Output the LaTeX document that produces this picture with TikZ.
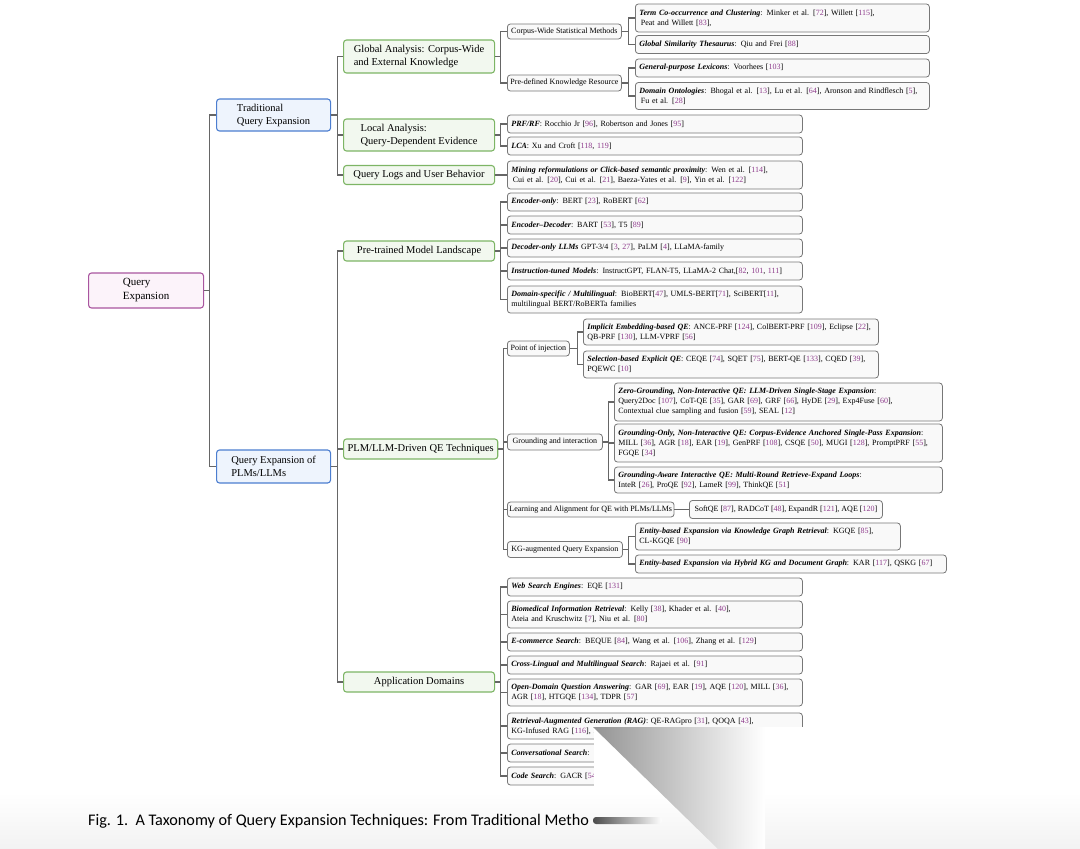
\documentclass[tikz,border=0pt]{standalone}
\usepackage{fontspec}
\setmainfont{Liberation Serif}
\newfontfamily\capfont{Carlito}
\usetikzlibrary{calc}
\definecolor{cite}{HTML}{8E3B8C}
\definecolor{leafb}{HTML}{777777}
\definecolor{leaff}{HTML}{F9F9F9}
\definecolor{grnb}{HTML}{7DB565}
\definecolor{grnf}{HTML}{F2F8EF}
\definecolor{blub}{HTML}{4C7ED0}
\definecolor{bluf}{HTML}{EEF4FD}
\definecolor{rtb}{HTML}{A9559F}
\definecolor{rtf}{HTML}{FCF3FA}
\definecolor{lnc}{HTML}{666666}
\newcommand{\lb}[1]{\textbf{\textit{#1}}}
\newcommand{\ct}[1]{\textcolor{cite}{#1}}
\newcommand{\cc}[1]{[\ct{#1}]}
\begin{document}
\begin{tikzpicture}[x=1pt,y=-1pt,
  box/.style={rounded corners=3pt, inner xsep=4pt, inner ysep=0pt, anchor=west},
  leaf/.style={box, draw=leafb, fill=leaff, line width=0.8pt, align=left, font=\fontsize{8}{10}\selectfont},
  midbox/.style={box, draw=leafb, fill=leaff, line width=0.8pt, align=center, inner xsep=2pt, font=\fontsize{8}{10}\selectfont},
  lvtwo/.style={box, draw=grnb, fill=grnf, line width=1.1pt, align=left, minimum width=151pt, font=\fontsize{10.5}{13}\selectfont},
  lvone/.style={box, draw=blub, fill=bluf, line width=1.1pt, align=left, minimum width=114pt, minimum height=32pt, font=\fontsize{10.5}{13}\selectfont},
  rootbox/.style={box, draw=rtb, fill=rtf, line width=1.1pt, align=left, minimum width=115pt, minimum height=35pt, font=\fontsize{11}{14}\selectfont},
  conn/.style={draw=lnc, line width=1.1pt}
]
\useasboundingbox (0,0) rectangle (1080,849);
\shade[top color=white, bottom color=black!5] (0,792) rectangle (1080,849);

% root and level 1
\node[rootbox] (root) at (88,290.5) {Query\\Expansion};
\node[lvone] (trad) at (216,115) {Traditional\\Query Expansion};
\node[lvone, minimum height=33pt] (plm) at (216,466.5) {Query Expansion of\\PLMs/LLMs};

% level 2
\node[lvtwo, minimum height=33pt] (glob) at (343,56.5) {Global Analysis: Corpus-Wide\\and External Knowledge};
\node[lvtwo, minimum height=32pt] (loc) at (343,135) {Local Analysis:\\Query-Dependent Evidence};
\node[lvtwo, minimum height=19pt] (qlog) at (343,175) {Query Logs and User Behavior};
\node[lvtwo, minimum height=20pt] (ptm) at (343,251) {Pre-trained Model Landscape};
\node[lvtwo, minimum height=20pt] (drv) at (343,449) {PLM/LLM-Driven QE Techniques};
\node[lvtwo, minimum height=20pt] (app) at (343,682) {Application Domains};

% level 3
\node[midbox, minimum width=114pt, minimum height=15pt] (cws) at (507,31.5) {Corpus-Wide Statistical Methods};
\node[midbox, minimum width=114pt, minimum height=16pt] (pdk) at (507,83) {Pre-defined Knowledge Resource};
\node[midbox, minimum width=62pt, minimum height=15pt] (poi) at (507,348.5) {Point of injection};
\node[midbox, minimum width=95pt, minimum height=16pt] (gai) at (507,442) {Grounding and interaction};
\node[midbox, minimum width=160pt, minimum height=15pt] (laa) at (507,509.5) {Learning and Alignment for QE with PLMs/LLMs};
\node[midbox, minimum width=115pt, minimum height=16pt] (kga) at (507,549.5) {KG-augmented Query Expansion};

% global leaves
\node[leaf, text width=286pt, minimum height=28pt] (tcc) at (635,18) {\lb{Term Co-occurrence and Clustering}: Minker et al. \cc{72}, Willett \cc{115},\\\hspace{1.5pt}Peat and Willett \cc{83},};
\node[leaf, text width=286pt, minimum height=18pt] (gst) at (635,44.5) {\lb{Global Similarity Thesaurus}: Qiu and Frei \cc{88}};
\node[leaf, text width=286pt, minimum height=18pt] (gpl) at (635,68) {\lb{General-purpose Lexicons}: Voorhees \cc{103}};
\node[leaf, text width=286pt, minimum height=27pt] (don) at (635,96) {\lb{Domain Ontologies}: Bhogal et al. \cc{13}, Lu et al. \cc{64}, Aronson and Rindflesch \cc{5},\\\hspace{1.5pt}Fu et al. \cc{28}};

% local / logs leaves
\node[leaf, text width=287pt, minimum height=18pt] (prf) at (507,124) {\lb{PRF/RF}: Rocchio Jr \cc{96}, Robertson and Jones \cc{95}};
\node[leaf, text width=287pt, minimum height=18pt] (lca) at (507,146) {\lb{LCA}: Xu and Croft [\ct{118}, \ct{119}]};
\node[leaf, text width=287pt, minimum height=28pt] (mine) at (507,175) {\lb{Mining reformulations or Click-based semantic proximity}: Wen et al. \cc{114},\\\hspace{1.5pt}Cui et al. \cc{20}, Cui et al. \cc{21}, Baeza-Yates et al. \cc{9}, Yin et al. \cc{122}};

% pre-trained leaves
\node[leaf, text width=287pt, minimum height=18pt] (eo) at (507,202) {\lb{Encoder-only}: BERT \cc{23}, RoBERT \cc{62}};
\node[leaf, text width=287pt, minimum height=18pt] (ed) at (507,225) {\lb{Encoder--Decoder}: BART \cc{53}, T5 \cc{89}};
\node[leaf, text width=287pt, minimum height=18pt] (dol) at (507,248) {\lb{Decoder-only LLMs} GPT-3/4 [\ct{3}, \ct{27}], PaLM \cc{4}, LLaMA-family};
\node[leaf, text width=287pt, minimum height=18pt] (itm) at (507,271) {\lb{Instruction-tuned Models}: InstructGPT, FLAN-T5, LLaMA-2 Chat,[\ct{82}, \ct{101}, \ct{111}]};
\node[leaf, text width=287pt, minimum height=27pt] (dsm) at (507,299.5) {\lb{Domain-specific / Multilingual}: BioBERT[\ct{47}], UMLS-BERT[\ct{71}], SciBERT[\ct{11}],\\multilingual BERT/RoBERTa families};

% point of injection leaves
\node[leaf, text width=287pt, minimum height=26pt] (iqe) at (583,332) {\lb{Implicit Embedding-based QE}: ANCE-PRF \cc{124}, ColBERT-PRF \cc{109}, Eclipse \cc{22},\\QB-PRF \cc{130}, LLM-VPRF \cc{56}};
\node[leaf, text width=287pt, minimum height=27pt] (sqe) at (583,364.5) {\lb{Selection-based Explicit QE}: CEQE \cc{74}, SQET \cc{75}, BERT-QE \cc{133}, CQED \cc{39},\\PQEWC \cc{10}};

% grounding leaves
\node[leaf, text width=320pt, minimum height=38pt] (zg) at (614,402) {\lb{Zero-Grounding, Non-Interactive QE: LLM-Driven Single-Stage Expansion}:\\Query2Doc \cc{107}, CoT-QE \cc{35}, GAR \cc{69}, GRF \cc{66}, HyDE \cc{29}, Exp4Fuse \cc{60},\\Contextual clue sampling and fusion \cc{59}, SEAL \cc{12}};
\node[leaf, text width=320pt, minimum height=38pt] (go) at (614,443) {\lb{Grounding-Only, Non-Interactive QE: Corpus-Evidence Anchored Single-Pass Expansion}:\\MILL \cc{36}, AGR \cc{18}, EAR \cc{19}, GenPRF \cc{108}, CSQE \cc{50}, MUGI \cc{128}, PromptPRF \cc{55},\\FGQE \cc{34}};
\node[leaf, text width=320pt, minimum height=26pt] (ga) at (614,480) {\lb{Grounding-Aware Interactive QE: Multi-Round Retrieve-Expand Loops}:\\InteR \cc{26}, ProQE \cc{92}, LameR \cc{99}, ThinkQE \cc{51}};

% learning leaf
\node[leaf, minimum width=193pt, minimum height=18pt, inner xsep=2pt] (soft) at (689,509.5) {SoftQE \cc{87}, RADCoT \cc{48}, ExpandR \cc{121}, AQE \cc{120}};

% KG leaves
\node[leaf, text width=257pt, minimum height=27pt] (kgr) at (635,536.5) {\lb{Entity-based Expansion via Knowledge Graph Retrieval}: KGQE \cc{85},\\CL-KGQE \cc{90}};
\node[leaf, text width=303pt, minimum height=18pt] (hyb) at (635,564) {\lb{Entity-based Expansion via Hybrid KG and Document Graph}: KAR \cc{117}, QSKG \cc{67}};

% application leaves
\node[leaf, text width=287pt, minimum height=18pt] (web) at (507,587) {\lb{Web Search Engines}: EQE \cc{131}};
\node[leaf, text width=287pt, minimum height=27pt] (bio) at (507,614.5) {\lb{Biomedical Information Retrieval}: Kelly \cc{38}, Khader et al. \cc{40},\\Ateia and Kruschwitz \cc{7}, Niu et al. \cc{80}};
\node[leaf, text width=287pt, minimum height=18pt] (eco) at (507,642) {\lb{E-commerce Search}: BEQUE \cc{84}, Wang et al. \cc{106}, Zhang et al. \cc{129}};
\node[leaf, text width=287pt, minimum height=18pt] (cl) at (507,665) {\lb{Cross-Lingual and Multilingual Search}: Rajaei et al. \cc{91}};
\node[leaf, text width=287pt, minimum height=27pt] (odqa) at (507,692.5) {\lb{Open-Domain Question Answering}: GAR \cc{69}, EAR \cc{19}, AQE \cc{120}, MILL \cc{36},\\AGR \cc{18}, HTGQE \cc{134}, TDPR \cc{57}};
\node[leaf, text width=287pt, minimum height=26pt] (rag) at (507,726) {\lb{Retrieval-Augmented Generation (RAG)}: QE-RAGpro \cc{31}, QOQA \cc{43},\\KG-Infused RAG \cc{116}, B};
\node[leaf, text width=287pt, minimum height=18pt] (conv) at (507,753) {\lb{Conversational Search}:};
\node[leaf, text width=287pt, minimum height=18pt] (code) at (507,776) {\lb{Code Search}: GACR \cc{54}};

% connectors
\foreach \c in {trad,plm} \draw[conn] (root.east) -- ++(5,0) |- (\c.west);
\foreach \c in {glob,loc,qlog} \draw[conn] (trad.east) -- ++(6,0) |- (\c.west);
\foreach \c in {ptm,drv,app} \draw[conn] (plm.east) -- ++(6,0) |- (\c.west);
\foreach \c in {cws,pdk} \draw[conn] (glob.east) -- ++(5,0) |- (\c.west);
\foreach \c in {tcc,gst} \draw[conn] (cws.east) -- ++(7,0) |- (\c.west);
\foreach \c in {gpl,don} \draw[conn] (pdk.east) -- ++(7,0) |- (\c.west);
\foreach \c in {prf,lca} \draw[conn] (loc.east) -- ++(5,0) |- (\c.west);
\draw[conn] (qlog.east) -- (mine.west);
\foreach \c in {eo,ed,dol,itm,dsm} \draw[conn] (ptm.east) -- ++(5,0) |- (\c.west);
\foreach \c in {poi,gai,laa,kga} \draw[conn] (drv.east) -- ++(5,0) |- (\c.west);
\foreach \c in {iqe,sqe} \draw[conn] (poi.east) -- ++(8,0) |- (\c.west);
\foreach \c in {zg,go,ga} \draw[conn] (gai.east) -- ++(6,0) |- (\c.west);
\draw[conn] (laa.east) -- (soft.west);
\foreach \c in {kgr,hyb} \draw[conn] (kga.east) -- ++(6,0) |- (\c.west);
\foreach \c in {web,bio,eco,cl,odqa,rag,conv,code} \draw[conn] (app.east) -- ++(5,0) |- (\c.west);

% caption
\node[anchor=base west, inner sep=0pt, font=\capfont\fontsize{16.2}{19}\selectfont] (cap) at (88,825) {Fig. 1.\ \ A Taxonomy of Query Expansion Techniques: From Traditional Metho};

% page-curl occlusion
\fill[white] (594,727) rectangle (1080,792);
\shade[left color=black!42, right color=white] (593,727) -- (765,727) -- (765,849) -- (718,849) -- cycle;
\shade[left color=black!70, right color=white, rounded corners=3pt] (593,817) rectangle (662,824);
\end{tikzpicture}
\end{document}
